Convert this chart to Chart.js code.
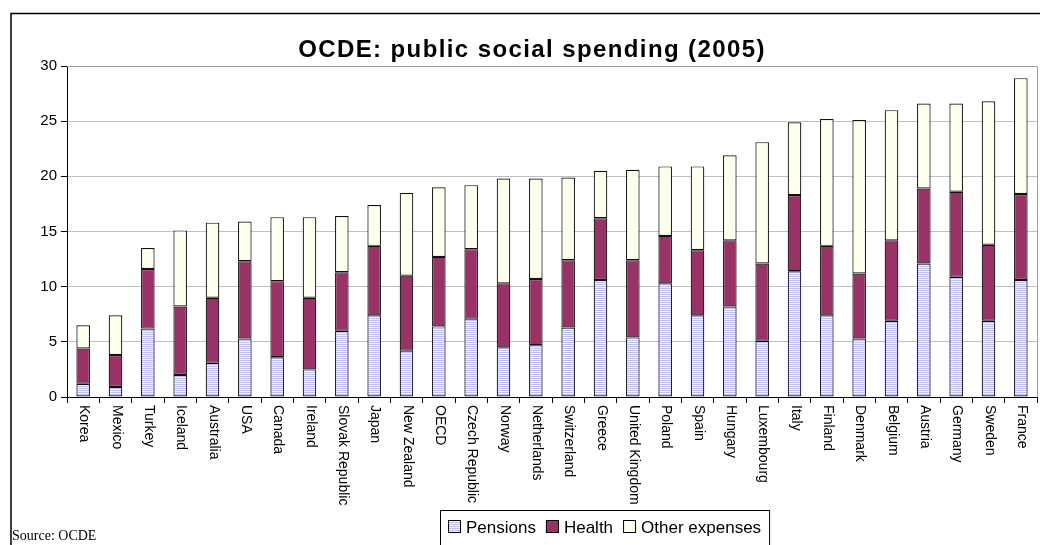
<!DOCTYPE html>
<html>
<head>
<meta charset="utf-8">
<script src="https://cdn.jsdelivr.net/npm/chart.js@4.4.1/dist/chart.umd.min.js"></script>
<style>
  html, body { margin: 0; padding: 0; background: #fff; }
  #wrap { width: 1040px; height: 545px; }
</style>
</head>
<body>
<div id="wrap"><canvas id="myChart" width="1040" height="545"></canvas></div>
<script>
// datos (% del PIB)
const countries = ['Korea', 'Mexico', 'Turkey', 'Iceland', 'Australia', 'USA', 'Canada', 'Ireland',
  'Slovak Republic', 'Japan', 'New Zealand', 'OECD', 'Czech Republic', 'Norway', 'Netherlands',
  'Switzerland', 'Greece', 'United Kingdom', 'Poland', 'Spain', 'Hungary', 'Luxembourg', 'Italy',
  'Finland', 'Denmark', 'Belgium', 'Austria', 'Germany', 'Sweden', 'France'];
const pensions = [1.2, 0.9, 6.2, 2.0, 3.1, 5.3, 3.6, 2.5, 6.0, 7.4, 4.2, 6.4, 7.1, 4.5, 4.7,
  6.3, 10.6, 5.4, 10.3, 7.4, 8.2, 5.1, 11.4, 7.4, 5.3, 6.9, 12.1, 10.9, 6.9, 10.6];
const health = [3.2, 2.9, 5.4, 6.2, 5.9, 7.0, 6.9, 6.5, 5.3, 6.3, 6.8, 6.3, 6.3, 5.8, 6.0,
  6.1, 5.6, 7.0, 4.3, 5.9, 6.0, 7.0, 6.9, 6.3, 5.9, 7.3, 6.8, 7.7, 6.9, 7.8];
const other = [2.1, 3.6, 1.9, 6.9, 6.8, 3.6, 5.8, 7.3, 5.1, 3.7, 7.5, 6.3, 5.8, 9.5, 9.1,
  7.5, 4.3, 8.2, 6.3, 7.6, 7.7, 11.0, 6.6, 11.5, 13.9, 11.8, 7.7, 8.0, 13.0, 10.5];
const yTicks = [0, 5, 10, 15, 20, 25, 30];

const chartTitle = 'OCDE: public social spending (2005)';
const sourceText = 'Source: OCDE';

// trama rayada para las pensiones
function stripePattern() {
    const c = document.createElement('canvas');
    c.width = 4; c.height = 2;
    const g = c.getContext('2d');
    g.fillStyle = '#f2f2ff';
    g.fillRect(0, 0, 4, 2);
    g.fillStyle = '#c0c0f0';
    g.fillRect(0, 0, 4, 1);
    return g.createPattern(c, 'repeat');
}

const ctx = document.getElementById('myChart').getContext('2d');
const pensionFill = stripePattern();

const extras = {
    id: 'extras',
    beforeDraw(chart) {
        const c = chart.ctx;
        c.save();
        c.fillStyle = '#fff';
        c.fillRect(0, 0, chart.width, chart.height);
        c.restore();
    },
    afterDraw(chart) {
        const c = chart.ctx;
        const area = chart.chartArea;
        const xs = chart.scales.x;
        c.save();

        // borde gris del área de trazado
        c.strokeStyle = '#a0a0a0';
        c.lineWidth = 1;
        c.beginPath();
        c.moveTo(area.left, area.top + 0.5);
        c.lineTo(area.right + 0.5, area.top + 0.5);
        c.lineTo(area.right + 0.5, area.bottom);
        c.stroke();

        // marco exterior
        c.strokeStyle = '#000';
        c.lineWidth = 1.5;
        c.strokeRect(11, 13.5, 1060, 560);

        // título
        c.fillStyle = '#000';
        c.font = 'bold 24px "Liberation Sans", Arial, sans-serif';
        c.letterSpacing = '1.4px';
        c.textAlign = 'center';
        c.textBaseline = 'alphabetic';
        c.fillText(chartTitle, 532, 57);
        c.letterSpacing = '0px';

        // etiquetas del eje x, giradas
        c.font = '14px "Liberation Sans", Arial, sans-serif';
        c.textAlign = 'left';
        c.textBaseline = 'middle';
        countries.forEach((name, i) => {
            const x = xs.getPixelForValue(i);
            c.save();
            c.translate(x + 1, area.bottom + 8);
            c.rotate(Math.PI / 2);
            c.fillText(name, 0, 0);
            c.restore();
        });

        // fuente
        c.font = '14px "Liberation Serif", "Times New Roman", serif';
        c.textBaseline = 'alphabetic';
        c.fillText(sourceText, 12, 540);

        // leyenda
        const lx = 440, ly = 510, lh = 40;
        const pad = 8, box = 13, gap = 5, sep = 10;
        c.font = '17px "Liberation Sans", Arial, sans-serif';
        const sets = chart.data.datasets;
        let w = pad * 2 + sep * (sets.length - 1);
        sets.forEach(ds => { w += box + gap + c.measureText(ds.label).width; });
        c.fillStyle = '#fff';
        c.fillRect(lx, ly, w, lh);
        c.strokeStyle = '#000';
        c.lineWidth = 1;
        c.strokeRect(lx + 0.5, ly + 0.5, w, lh);
        let px = lx + pad;
        const cy = ly + 17;
        sets.forEach(ds => {
            c.fillStyle = ds.backgroundColor;
            c.fillRect(px, cy - 7, box, box);
            c.strokeStyle = '#000';
            c.strokeRect(px + 0.5, cy - 6.5, box - 1, box - 1);
            px += box + gap;
            c.fillStyle = '#000';
            c.textBaseline = 'middle';
            c.fillText(ds.label, px, cy + 1);
            px += c.measureText(ds.label).width + sep;
        });
        c.restore();
    }
};

const data = {
    labels: countries,
    datasets: [
        { label: 'Pensions', data: pensions, backgroundColor: pensionFill },
        { label: 'Health', data: health, backgroundColor: '#993366' },
        { label: 'Other expenses', data: other, backgroundColor: '#ffffee' }
    ].map(ds => Object.assign(ds, {
        borderColor: '#111',
        borderWidth: 1.2,
        borderSkipped: false,
        barPercentage: 0.42,
        categoryPercentage: 1
    }))
};

new Chart(ctx, {
    type: 'bar',
    data: data,
    plugins: [extras],
    options: {
        responsive: false,
        animation: false,
        layout: { padding: { left: 0, top: 66, right: 3, bottom: 142 } },
        plugins: {
            legend: { display: false },
            title: { display: false },
            tooltip: { enabled: false }
        },
        scales: {
            x: {
                stacked: true,
                offset: true,
                grid: { offset: true, drawOnChartArea: false, drawTicks: true, tickLength: 6, tickColor: '#000' },
                border: { color: '#000', width: 1 },
                ticks: { display: false },
                afterFit(scale) { scale.height = 6; }
            },
            y: {
                stacked: true,
                min: 0,
                max: 30,
                afterBuildTicks(scale) { scale.ticks = yTicks.map(v => ({ value: v })); },
                grid: { color: '#c0c0c0', tickColor: '#000', tickLength: 6 },
                border: { color: '#000', width: 1 },
                ticks: {
                    color: '#000',
                    padding: 4,
                    font: { family: '"Liberation Sans", Arial, sans-serif', size: 15 }
                },
                afterFit(scale) { scale.width = 67; }
            }
        }
    }
});
</script>
</body>
</html>
